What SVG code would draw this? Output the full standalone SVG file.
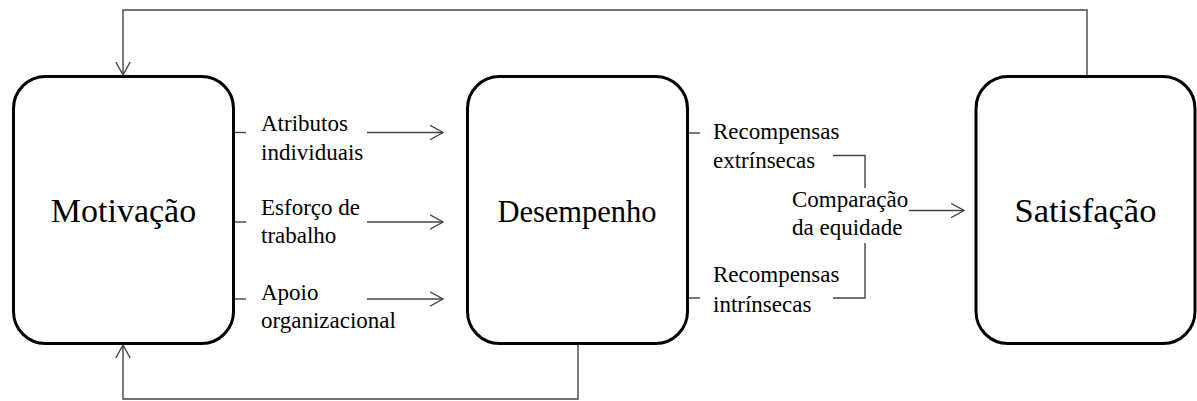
<svg xmlns="http://www.w3.org/2000/svg" width="1197" height="401" viewBox="0 0 1197 401">
<style>
.box{fill:#fff;stroke:#000;stroke-width:3}
.big{font-family:'Liberation Serif',Tinos,'Times New Roman',Times,'Nimbus Roman','Nimbus Roman No9 L',FreeSerif,'Noto Serif','DejaVu Serif',serif;fill:#000;text-anchor:middle}
.lbl{font-family:'Liberation Serif',Tinos,'Times New Roman',Times,'Nimbus Roman','Nimbus Roman No9 L',FreeSerif,'Noto Serif','DejaVu Serif',serif;font-size:23px;fill:#000}
.ln{fill:none;stroke:#444;stroke-width:1.4}
</style>
<defs>
<marker id="arr" viewBox="0 0 14 16" refX="13.5" refY="8" markerWidth="14" markerHeight="16" markerUnits="userSpaceOnUse" orient="auto">
<path d="M0.5,0.8 L13.5,8 L0.5,15.2" fill="none" stroke="#444" stroke-width="1.4"/>
</marker>
</defs>
<rect width="1197" height="401" fill="#fff"/>
<g id="connectors">
<path class="ln" d="M1087,76 V10 H123 V75" marker-end="url(#arr)"/>
<path class="ln" d="M578,344 V399 H123 V345" marker-end="url(#arr)"/>
<path class="ln" d="M234,132.5 H246"/>
<path class="ln" d="M234,222 H246"/>
<path class="ln" d="M234,299 H246"/>
<path class="ln" d="M367,132.5 H443" marker-end="url(#arr)"/>
<path class="ln" d="M367,222 H443" marker-end="url(#arr)"/>
<path class="ln" d="M367,299 H443" marker-end="url(#arr)"/>
<path class="ln" d="M688,133 H700"/>
<path class="ln" d="M688,298 H700"/>
<path class="ln" d="M833,155.5 H865 V188"/>
<path class="ln" d="M865,243 V298 H833"/>
<path class="ln" d="M909,210.5 H964" marker-end="url(#arr)"/>
</g>
<g id="motivacao">
<rect class="box" x="13.5" y="76.5" width="220" height="267" rx="32" ry="32"/>
<text class="big" x="123.5" y="222" font-size="34">Motivação</text>
</g>
<g id="desempenho">
<rect class="box" x="467.5" y="76.5" width="220" height="267" rx="32" ry="32"/>
<text class="big" x="577" y="222" font-size="30.5">Desempenho</text>
</g>
<g id="satisfacao">
<rect class="box" x="976" y="76.5" width="219" height="267" rx="32" ry="32"/>
<text class="big" x="1085.5" y="222" font-size="34.5">Satisfação</text>
</g>
<g id="labels">
<text class="lbl" x="261" y="131">Atributos</text>
<text class="lbl" x="261" y="159.5">individuais</text>
<text class="lbl" x="261" y="215">Esforço de</text>
<text class="lbl" x="261" y="243">trabalho</text>
<text class="lbl" x="261" y="300">Apoio</text>
<text class="lbl" x="261" y="328">organizacional</text>
<text class="lbl" x="713" y="138.5">Recompensas</text>
<text class="lbl" x="713" y="168">extrínsecas</text>
<text class="lbl" x="792" y="206.5">Comparação</text>
<text class="lbl" x="792" y="235">da equidade</text>
<text class="lbl" x="713" y="282">Recompensas</text>
<text class="lbl" x="713" y="311.5">intrínsecas</text>
</g>
</svg>
